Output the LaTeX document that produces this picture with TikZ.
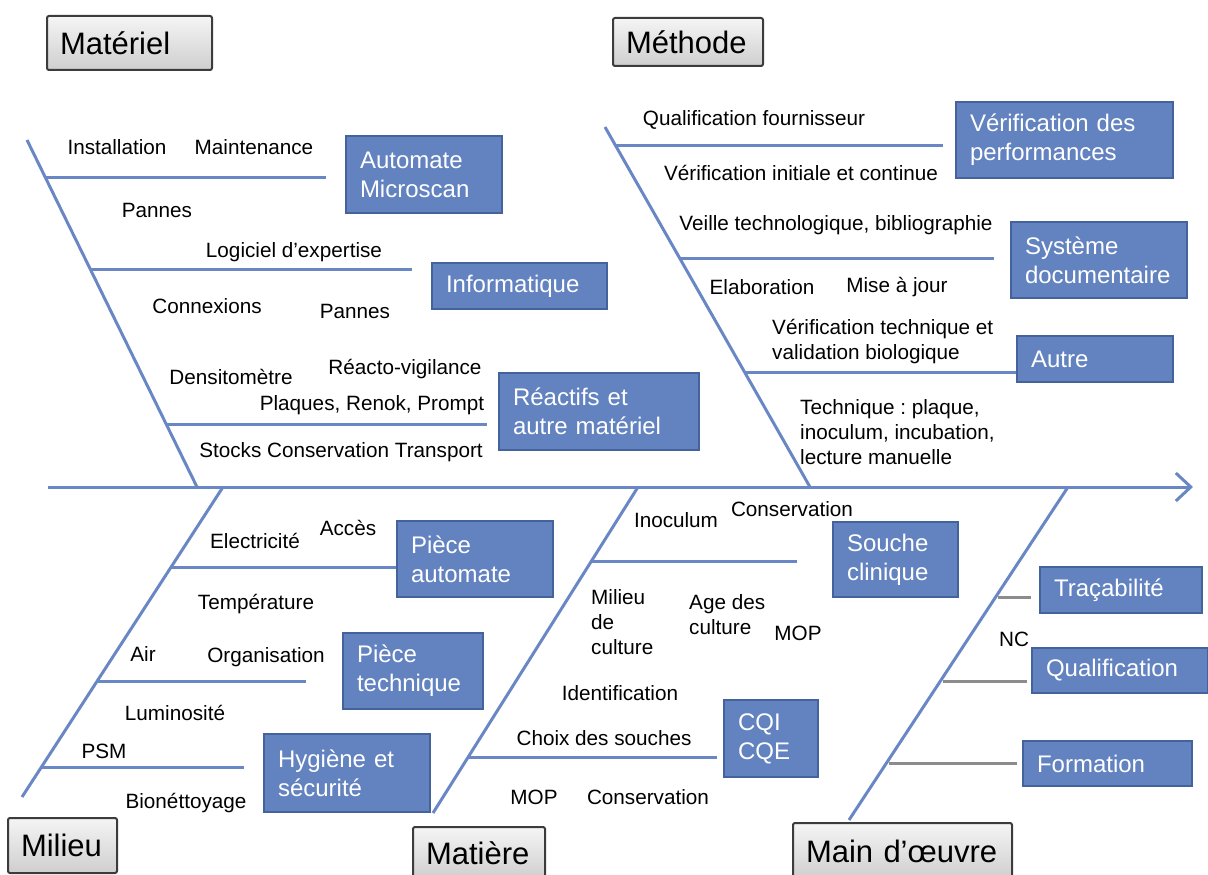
\documentclass[tikz,border=0pt]{standalone}
\usepackage{fontspec}
\setmainfont{Liberation Sans}
\usetikzlibrary{arrows.meta, calc}
\frenchspacing
\definecolor{fbblue}{HTML}{6A87C5}
\definecolor{fbfill}{HTML}{6282C0}
\definecolor{fbedge}{HTML}{44629C}
\definecolor{fbgray}{HTML}{8C8C8C}
\definecolor{hdedge}{HTML}{3C3C3C}
\tikzset{
  bone/.style={line width=3pt, fbblue},
  twig/.style={line width=3pt, fbgray},
  cause/.style={rectangle, draw=fbedge, line width=2.5pt, fill=fbfill,
    text=white, align=left, inner xsep=14pt, inner ysep=0pt,
    font=\fontsize{24}{29}\selectfont},
  famille/.style={rectangle, draw=hdedge, line width=2pt, rounded corners=2pt,
    top color=gray!8, bottom color=gray!38, align=left,
    inner xsep=13pt, inner ysep=0pt, font=\fontsize{31}{37}\selectfont},
  lbl/.style={inner sep=0pt, font=\fontsize{20.7}{25}\selectfont},
}
\begin{document}
\begin{tikzpicture}[x=1pt, y=-1pt]
  \useasboundingbox (0,0) rectangle (1208,875);

  % --- Familles ---
  \node[famille, text width=139pt, minimum height=54pt] (materiel) at (129.5,43) {Matériel};
  \node[famille, text width=124pt, minimum height=48pt] (methode) at (688,42) {Méthode};
  \node[famille, text width=83pt, minimum height=55pt] (milieu) at (62.5,845.5) {Milieu};
  \node[famille, text width=106pt, minimum height=52pt] (matiere) at (479,853) {Matière};
  \node[famille, text width=193pt, minimum height=56pt] (mainoeuvre) at (902.5,851) {Main d’œuvre};

  % --- Causes ---
  \node[cause, text width=128pt, minimum height=77pt] (automate) at (424,174.5) {Automate\\Microscan};
  \node[cause, text width=147pt, minimum height=46pt] (informatique) at (519.5,286) {Informatique};
  \node[cause, text width=172pt, minimum height=77pt] (reactifs) at (599,411.5) {Réactifs et\\autre matériel};
  \node[cause, text width=189pt, minimum height=76pt] (verifperf) at (1064.5,140) {Vérification des\\performances};
  \node[cause, text width=148pt, minimum height=76pt] (systeme) at (1099,260) {Système\\documentaire};
  \node[cause, text width=128pt, minimum height=46pt] (autre) at (1095,359) {Autre};
  \node[cause, text width=128pt, minimum height=76pt] (pieceauto) at (475,559) {Pièce\\automate};
  \node[cause, text width=112pt, minimum height=76pt] (piecetech) at (413,671) {Pièce\\technique};
  \node[cause, text width=138pt, minimum height=78pt] (hygiene) at (347,773) {Hygiène et\\sécurité};
  \node[cause, text width=97pt, minimum height=75pt] (souche) at (895.5,559.5) {Souche\\clinique};
  \node[cause, text width=66pt, minimum height=77pt] (cqi) at (771,738.5) {CQI\\CQE};
  \node[cause, text width=134pt, minimum height=46pt] (tracabilite) at (1121,590) {Traçabilité};
  \node[cause, text width=148pt, minimum height=45pt] (qualification) at (1120,670.5) {Qualification};
  \node[cause, text width=141pt, minimum height=45pt] (formation) at (1107.5,763.5) {Formation};

  % --- Matériel : sous-causes ---
  \node[lbl] (installation) at (117,147) {Installation};
  \node[lbl] (maintenance) at (254,147) {Maintenance};
  \node[lbl] (pannesA) at (157,210) {Pannes};
  \node[lbl] (logiciel) at (294,252) {Logiciel d’expertise};
  \node[lbl] (connexions) at (207,306) {Connexions};
  \node[lbl] (pannesB) at (355,311) {Pannes};
  \node[lbl] (densito) at (231,377) {Densitomètre};
  \node[lbl] (reacto) at (405,369) {Réacto-vigilance};
  \node[lbl] (plaques) at (372,405) {Plaques, Renok, Prompt};
  \node[lbl] (stocks) at (341,452) {Stocks Conservation Transport};

  % --- Méthode : sous-causes ---
  \node[lbl] (qualfourn) at (754,120) {Qualification fournisseur};
  \node[lbl] (verifinit) at (801,173) {Vérification initiale et continue};
  \node[lbl] (veille) at (836,225) {Veille technologique, bibliographie};
  \node[lbl] (elaboration) at (762,287) {Elaboration};
  \node[lbl] (miseajour) at (897,287) {Mise à jour};
  \node[lbl, align=left, anchor=west] (veriftech) at (772,342) {Vérification technique et\\validation biologique};
  \node[lbl, align=left, anchor=west] (technique) at (800,432) {Technique : plaque,\\inoculum, incubation,\\lecture manuelle};

  % --- Milieu : sous-causes ---
  \node[lbl] (electricite) at (255,541) {Electricité};
  \node[lbl] (acces) at (348,528) {Accès};
  \node[lbl] (temperature) at (256,604) {Température};
  \node[lbl] (air) at (143,654) {Air};
  \node[lbl] (organisation) at (266,657) {Organisation};
  \node[lbl] (luminosite) at (175,713) {Luminosité};
  \node[lbl] (psm) at (104,751) {PSM};
  \node[lbl] (bionet) at (186,803) {Bionéttoyage};

  % --- Matière : sous-causes ---
  \node[lbl] (inoculum) at (676,520) {Inoculum};
  \node[lbl] (consA) at (792,509) {Conservation};
  \node[lbl, align=left, anchor=west] (milieucult) at (591,622) {Milieu\\de\\culture};
  \node[lbl, align=left, anchor=west] (agecult) at (689,615) {Age des\\culture};
  \node[lbl] (mopA) at (798,633) {MOP};
  \node[lbl] (identification) at (620,693) {Identification};
  \node[lbl] (choix) at (604,738) {Choix des souches};
  \node[lbl] (mopB) at (534,797) {MOP};
  \node[lbl] (consB) at (648,797) {Conservation};

  % --- Main d'oeuvre ---
  \node[lbl] (nc) at (1014,639) {NC};

  % --- Arête centrale ---
  \coordinate (queue) at (48,487);
  \coordinate (tete) at (1193,487);
  \draw[bone, -{Straight Barb[length=15pt, width=28pt]}] (queue) -- (tete);

  % --- Arêtes ---
  \coordinate (matA) at (27,140);   \coordinate (matB) at (197,487);
  \coordinate (metA) at (605,127);  \coordinate (metB) at (810,487);
  \coordinate (milA) at (223,487);  \coordinate (milB) at (22,797);
  \coordinate (mtrA) at (638,487);  \coordinate (mtrB) at (433,813);
  \coordinate (moA) at (1068,487);  \coordinate (moB) at (849,820);
  \foreach \a/\b in {matA/matB, metA/metB, milA/milB, mtrA/mtrB, moA/moB}
    \draw[bone] (\a) -- (\b);

  % --- Branches vers les causes ---
  \foreach \fr/\bx/\sh in {0.107/automate/19, 0.372/informatique/19, 0.821/reactifs/11}
    \draw[bone, shorten >=\sh pt] ($(matA)!\fr!(matB)$) coordinate (r) -- (r -| \bx.west);
  \foreach \fr/\bx/\sh in {0.050/verifperf/12, 0.364/systeme/16, 0.683/autre/0}
    \draw[bone, shorten >=\sh pt] ($(metA)!\fr!(metB)$) coordinate (r) -- (r -| \bx.west);
  \foreach \fr/\bx/\sh in {0.261/pieceauto/0, 0.626/piecetech/36, 0.906/hygiene/19}
    \draw[bone, shorten >=\sh pt] ($(milA)!\fr!(milB)$) coordinate (r) -- (r -| \bx.west);
  \foreach \fr/\bx/\sh in {0.230/souche/35, 0.831/cqi/6}
    \draw[bone, shorten >=\sh pt] ($(mtrA)!\fr!(mtrB)$) coordinate (r) -- (r -| \bx.west);
  \foreach \fr/\bx/\sh in {0.333/tracabilite/8, 0.583/qualification/4, 0.829/formation/5}
    \draw[twig, shorten <=3pt, shorten >=\sh pt] ($(moA)!\fr!(moB)$) coordinate (r) -- (r -| \bx.west);

\end{tikzpicture}
\end{document}
